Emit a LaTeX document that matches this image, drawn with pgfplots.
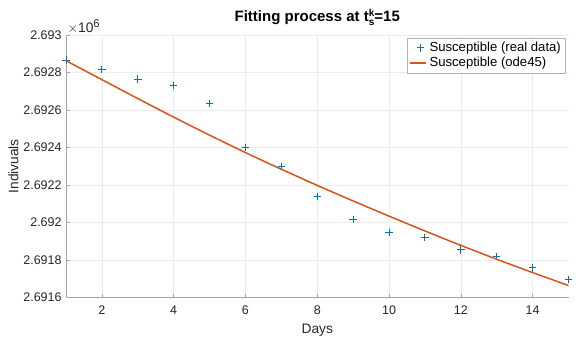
\documentclass[border=0pt]{standalone}
\usepackage{fontspec}
\setmainfont{Liberation Sans}
\usepackage{pgfplots}
\pgfplotsset{compat=1.18}
\definecolor{mBlue}{RGB}{0,114,189}
\definecolor{mOrange}{RGB}{217,83,25}
\definecolor{mAxis}{RGB}{38,38,38}
\pgfplotsset{shortline/.style={legend image code/.code={\draw[##1] (0pt,0pt) -- (13pt,0pt);}}}

\begin{document}
\begin{tikzpicture}
\begin{axis}[
    scale only axis,
    width=402pt, height=210pt,
    xmin=1, xmax=15,
    ymin=2691600, ymax=2693000,
    xtick={2,4,...,14},
    ytick={2691600,2691800,2692000,2692200,2692400,2692600,2692800,2693000},
    yticklabels={2.6916,2.6918,2.692,2.6922,2.6924,2.6926,2.6928,2.693},
    scaled y ticks=false,
    /pgf/number format/assume math mode=true,
    clip mode=individual,
    axis x line*=bottom, axis y line*=left,
    axis line style={draw=gray!70, line width=0.5pt},
    tick style={draw=gray!70, line width=0.5pt},
    tick align=inside,
    major tick length=3pt,
    grid=major,
    major grid style={draw=gray!15, line width=0.4pt},
    tick label style={font=\fontsize{10}{12}\selectfont, text=mAxis},
    xticklabel style={yshift=-3pt},
    xlabel={Days},
    ylabel={Indivuals},
    label style={font=\fontsize{11}{13}\selectfont, text=mAxis},
    xlabel style={yshift=-1pt},
    ylabel style={yshift=-3pt},
    title={\textbf{Fitting process at t\raisebox{-3.5pt}{\fontsize{8}{9.5}\selectfont\bfseries\shortstack[l]{k\\s}}=15}},
    title style={font=\fontsize{12}{14}\selectfont, yshift=-2pt},
    legend style={at={(rel axis cs:0.994,0.99)}, anchor=north east,
        font=\fontsize{10.5}{12}\selectfont, draw=gray!60, line width=0.4pt,
        inner sep=1.5pt, row sep=-1pt, text=black},
    legend cell align=left,
]
\addplot[only marks, mark=+, mark size=3pt, draw=mBlue,
    mark options={solid, draw=mBlue, line width=0.75pt, line cap=butt}] coordinates {
    (1,2692866)(2,2692817)(3,2692765)(4,2692731)(5,2692636)
    (6,2692400)(7,2692300)(8,2692139)(9,2692015)(10,2691948)
    (11,2691920)(12,2691854)(13,2691818)(14,2691758)(15,2691697)};
\addplot[mOrange, line width=1.2pt, smooth, shortline] coordinates {
    (1,2692863)(2,2692762)(3,2692661)(4,2692562)(5,2692466)
    (6,2692373)(7,2692284)(8,2692198)(9,2692115)(10,2692034)
    (11,2691955)(12,2691878)(13,2691804)(14,2691733)(15,2691664)};
\legend{Susceptible (real data),Susceptible (ode45)}
\node[anchor=south west, font=\fontsize{11}{13}\selectfont, text=mAxis, inner sep=1pt]
    at (rel axis cs:0,1) {$\times$10\raisebox{4pt}{\fontsize{9}{9}\selectfont 6}};
\end{axis}
\pgfresetboundingbox
\path (-52.8pt,-33.6pt) rectangle (412pt,238pt);
\end{tikzpicture}
\end{document}
